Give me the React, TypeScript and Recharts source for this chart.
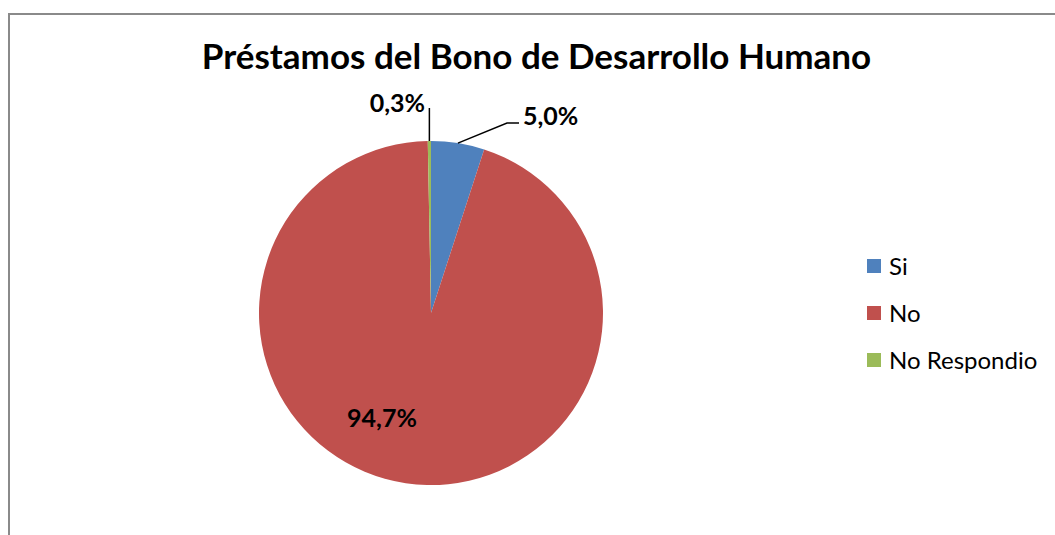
import React from "react";
import { Legend, Pie, PieChart, Cell } from "recharts";

const categories = ["Si", "No", "No Respondio"];
const values = [5.0, 94.7, 0.3];
const labels = ["5,0%", "94,7%", "0,3%"];
const colors = ["#4F81BD", "#C0504D", "#9BBB59"];

const data = categories.map((name, i) => ({ name, value: values[i] }));

const FONT = "Lato, 'Open Sans', sans-serif";
const CX = 431;
const CY = 313;
const R = 172;

// label placement per slice, relative to the pie centre (Excel-style)
const labelSpots = [
  { dx: 92, dy: -198, anchor: "start", leader: "elbow", ly: -190 },
  { dx: -49, dy: 104, anchor: "middle", leader: "none", ly: 0 },
  { dx: -6, dy: -211, anchor: "end", leader: "vertical", ly: -205 },
];

const RAD = Math.PI / 180;

function renderLabel(props: any) {
  const { cx, cy, midAngle, outerRadius, index } = props;
  const spot = labelSpots[index];
  const ax = cx + outerRadius * Math.cos(-midAngle * RAD);
  const ay = cy + outerRadius * Math.sin(-midAngle * RAD);
  const tx = cx + spot.dx;
  const ty = cy + spot.dy;
  let leader = null;
  if (spot.leader === "elbow") {
    leader = (
      <polyline
        points={`${ax},${ay} ${tx - 16},${cy + spot.ly} ${tx - 4},${cy + spot.ly}`}
        fill="none"
        stroke="#000"
        strokeWidth={1.5}
      />
    );
  } else if (spot.leader === "vertical") {
    leader = (
      <line x1={ax} y1={ay} x2={ax} y2={cy + spot.ly} stroke="#000" strokeWidth={1.5} />
    );
  }
  return (
    <g>
      {leader}
      <text
        x={tx}
        y={ty}
        textAnchor={spot.anchor}
        dominantBaseline="central"
        fontFamily={FONT}
        fontWeight="bold"
        fontSize={25}
        fill="#000"
      >
        {labels[index]}
      </text>
    </g>
  );
}

function LegendBox(props: any) {
  const { payload } = props;
  return (
    <div style={{ fontFamily: FONT, fontSize: 24, color: "#000" }}>
      {(payload || []).map((p: any, i: number) => (
        <div
          key={i}
          style={{ display: "flex", alignItems: "center", height: 47 }}
        >
          <span
            style={{
              display: "inline-block",
              width: 14,
              height: 14,
              background: colors[i],
              marginRight: 8,
            }}
          />
          <span>{categories[i]}</span>
        </div>
      ))}
    </div>
  );
}

export default function App() {
  return (
    <div
      style={{
        position: "absolute",
        left: 0,
        top: 0,
        width: 1055,
        height: 535,
        overflow: "hidden",
        background: "#fff",
      }}
    >
      <div
        style={{
          position: "absolute",
          left: 8,
          top: 13,
          width: 1200,
          height: 700,
          border: "2px solid #8a8a8a",
        }}
      />
      <div
        style={{
          position: "absolute",
          left: 0,
          top: 34,
          width: 1073,
          textAlign: "center",
          fontFamily: FONT,
          fontWeight: "bold",
          fontSize: 35,
          color: "#000",
        }}
      >
        Préstamos del Bono de Desarrollo Humano
      </div>
      <div style={{ position: "absolute", left: 0, top: 0 }}>
        <PieChart width={1055} height={535} margin={{ top: 0, right: 0, bottom: 0, left: 0 }}>
          <Pie
            data={data}
            dataKey="value"
            nameKey="name"
            cx={CX}
            cy={CY}
            outerRadius={R}
            startAngle={90}
            endAngle={-270}
            stroke="none"
            label={renderLabel}
            labelLine={false}
            isAnimationActive={false}
          >
            {data.map((d, i) => (
              <Cell key={d.name} fill={colors[i]} />
            ))}
          </Pie>
          <Legend
            layout="vertical"
            align="right"
            verticalAlign="top"
            content={<LegendBox />}
            wrapperStyle={{ left: 867, top: 242, width: 185 }}
          />
        </PieChart>
      </div>
    </div>
  );
}
